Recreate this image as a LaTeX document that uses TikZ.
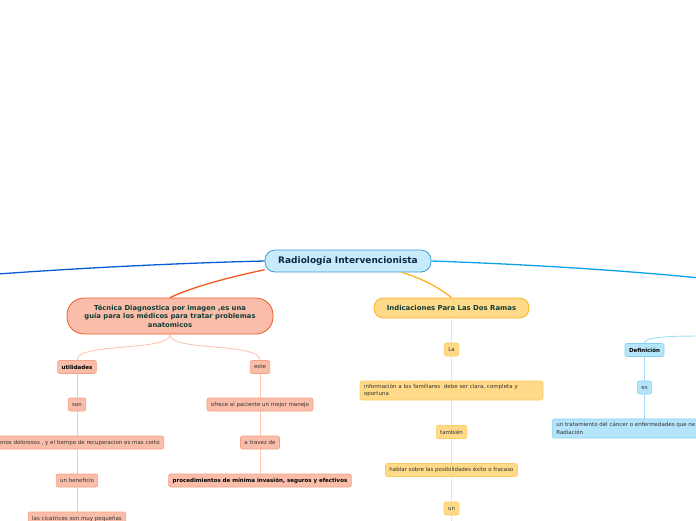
\documentclass[tikz,border=0pt]{standalone}
\usepackage{fontspec}
\setmainfont{DejaVu Sans}
\definecolor{txt}{HTML}{333333}
\definecolor{dark}{HTML}{123D36}
\definecolor{navy}{HTML}{0C2A45}
\definecolor{salF}{HTML}{F9BDA9}
\definecolor{salD}{HTML}{F5A186}
\definecolor{salL}{HTML}{FBC6B3}
\definecolor{salM}{HTML}{F15A22}
\definecolor{yelF}{HTML}{FFDA88}
\definecolor{yelD}{HTML}{FDCB62}
\definecolor{yelL}{HTML}{FFE3A6}
\definecolor{yelM}{HTML}{F9B423}
\definecolor{bluF}{HTML}{B5E5FA}
\definecolor{bluD}{HTML}{86D0F2}
\definecolor{bluL}{HTML}{A3DCF5}
\definecolor{cenF}{HTML}{C8EBFC}
\definecolor{cenD}{HTML}{3D9BD8}
\definecolor{blueA}{HTML}{0A5CD6}
\definecolor{blueB}{HTML}{0AA3E8}
\begin{document}
\begin{tikzpicture}[x=1pt,y=-1pt,
  base/.style={rounded corners=2pt, line width=0.6pt, minimum height=13pt,
    inner xsep=4pt, inner ysep=0pt, font=\fontsize{5.5}{7.5}\selectfont, text=txt},
  sal/.style={base, fill=salF, draw=salD},
  yel/.style={base, fill=yelF, draw=yelD},
  blu/.style={base, fill=bluF, draw=bluD},
  bold/.style={font=\fontsize{5.5}{7.5}\selectfont\bfseries, text=black},
  central/.style={rounded corners=10pt, line width=0.8pt, fill=cenF, draw=cenD,
    minimum height=22pt, minimum width=166pt, inner ysep=0pt,
    font=\fontsize{9}{10}\selectfont\bfseries, text=navy},
  tec/.style={rounded corners=17pt, line width=0.8pt, fill=salF, draw=salM,
    minimum height=36pt, minimum width=206pt, inner ysep=0pt, align=center,
    font=\fontsize{6.8}{8.6}\selectfont\bfseries, text=dark},
  ind/.style={rounded corners=9.5pt, line width=0.8pt, fill=yelF, draw=yelM,
    minimum height=20pt, minimum width=155pt, inner ysep=0pt,
    font=\fontsize{6.9}{8}\selectfont\bfseries, text=dark},
  mainline/.style={line width=1.3pt},
  subsal/.style={draw=salL, line width=0.9pt},
  subyel/.style={draw=yelL, line width=0.9pt},
  subblu/.style={draw=bluL, line width=0.9pt}
]
\useasboundingbox (0,0) rectangle (696,520);

% nodes
\node[central] (c) at (348,261) {Radiología Intervencionista};
\node[tec] (t) at (170,316) {Técnica Diagnostica por imagen ,es una\\guía para los médicos para tratar problemas\\anatomicos};
\node[ind] (i) at (451.5,308) {Indicaciones Para Las Dos Ramas};

\node[sal, bold] (u) at (77,367) {utilidades};
\node[sal] (e) at (260,367) {este};
\node[sal] (s) at (77,404.5) {son};
\node[sal, anchor=east] (m) at (164,442.5) {menos dolorosos , y el tiempo de recuperacion es mas corto};
\node[sal] (b) at (77,480.5) {un beneficio};
\node[sal] (p) at (77,518.5) {las cicatrices son muy pequeñas};
\node[sal] (o) at (260,404.5) {ofrece al paciente un mejor manejo};
\node[sal] (a) at (260,442.5) {a travez de};
\node[sal, bold] (pr) at (260,480.5) {procedimientos de mínima invasión, seguros y efectivos};

\node[yel] (la) at (451.5,349.5) {La};
\node[yel, text width=175pt, align=left, minimum height=19pt] (inf) at (451.5,390.5) {información a los familiares\ \ debe ser clara, completa y\\oportuna};
\node[yel] (tam) at (451.5,432) {también};
\node[yel] (hab) at (451.5,470) {hablar sobre las posibilidades éxito o fracaso};
\node[yel] (un) at (451.5,508.5) {un};

\node[blu, bold] (def) at (644.5,350) {Definición};
\node[blu] (es) at (644.5,387.5) {es};
\node[blu, anchor=west, align=left, inner xsep=4pt, minimum height=19pt] (tr) at (552,428.5) {un tratamiento del cáncer o enfermedades que ne\\Radiación};

\coordinate (lft) at (-2,274);
\coordinate (rgt) at (700,278);
\coordinate (rdef) at (700,336);
\coordinate (bot) at (451.5,530);

% main connectors
\draw[mainline, blueA] (c.west) .. controls (180,263) and (80,268) .. (lft);
\draw[mainline, blueB] (c.east) .. controls (520,264) and (620,270) .. (rgt);
\draw[mainline, salM] (c.186) .. controls (225,278) and (190,288) .. (t.north);
\draw[mainline, yelM] (c.-12) .. controls (425,279) and (442,290) .. (i.north);

% salmon branches
\draw[subsal] (t.south) .. controls (170,352) and (77,342) .. (u.north);
\draw[subsal] (t.south) .. controls (170,352) and (260,342) .. (e.north);
\draw[subsal] (u.south) -- (s.north);
\draw[subsal] (s.south) -- (s.south |- m.north);
\draw[subsal] (b.north |- m.south) -- (b.north);
\draw[subsal] (b.south) -- (p.north);
\draw[subsal] (e.south) -- (o.north);
\draw[subsal] (o.south) -- (a.north);
\draw[subsal] (a.south) -- (pr.north);

% yellow branches
\draw[subyel] (i.south) -- (la.north);
\draw[subyel] (la.south) -- (inf.north);
\draw[subyel] (inf.south) -- (tam.north);
\draw[subyel] (tam.south) -- (hab.north);
\draw[subyel] (hab.south) -- (un.north);
\draw[subyel] (un.south) -- (bot);

% blue branches
\draw[subblu] (def.north) .. controls (644.5,338) and (660,336) .. (rdef);
\draw[subblu] (def.south) -- (es.north);
\draw[subblu] (es.south) -- (es.south |- tr.north);
\end{tikzpicture}
\end{document}
